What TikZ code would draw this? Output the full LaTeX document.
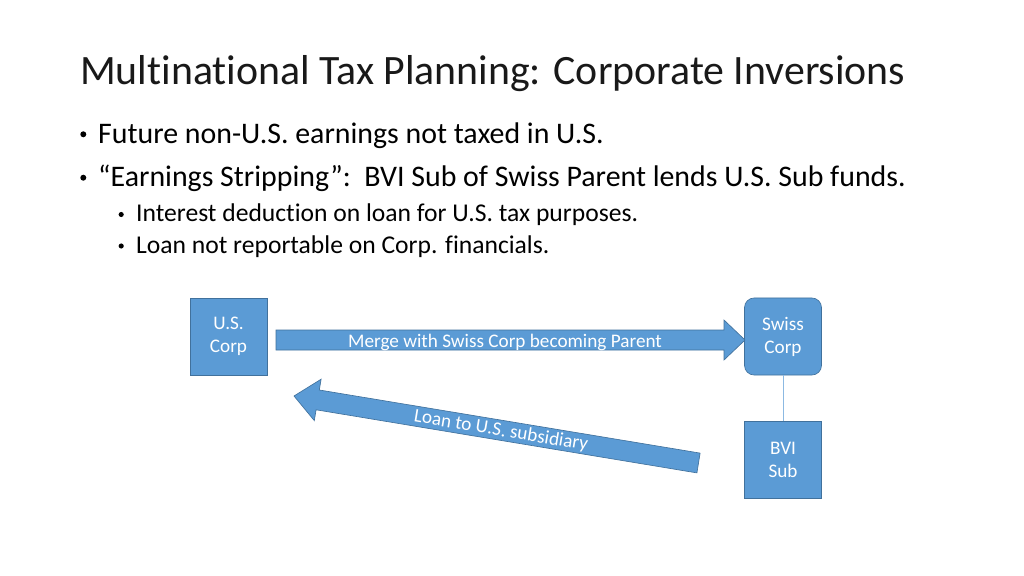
\documentclass[tikz,border=0pt]{standalone}
\usepackage{fontspec}
\setmainfont{Carlito}[Ligatures=CommonOff]
\definecolor{boxblue}{HTML}{5B9BD5}
\definecolor{boxedge}{HTML}{41719C}
\begin{document}
\begin{tikzpicture}[x=0.9375pt,y=-0.9375pt,
  txt/.style={inner sep=0pt, anchor=base west, text=black},
  lvlone/.style={txt, font=\fontsize{28}{33}\selectfont},
  lvltwo/.style={txt, font=\fontsize{24}{28}\selectfont},
  bigdot/.style={circle, fill=black, inner sep=0pt, minimum size=5.6pt},
  smalldot/.style={circle, fill=black, inner sep=0pt, minimum size=4.8pt},
  entity/.style={draw=boxedge, fill=boxblue, line width=0.6pt, minimum width=72.2pt, minimum height=72.2pt,
    text=white, align=center, font=\fontsize{18}{21.6}\selectfont, inner sep=0pt},
  blockarrow/.style={draw=boxedge, fill=boxblue, line width=0.6pt},
  arrowlabel/.style={text=white, inner sep=0pt, font=\fontsize{18}{21}\selectfont}]
\fill[white] (0,0) rectangle (1024,576);
\useasboundingbox (0,0) rectangle (1024,576);

% title
\node[txt, font=\fontsize{39.2}{47}\selectfont, text=black!90] (title) at (80,84.5) {Multinational Tax Planning: Corporate Inversions};

% bullets
\node[bigdot] (d1) at (83.3,134.3) {};
\node[lvlone] (t1) at (98,143.3) {Future non-U.S. earnings not taxed in U.S.};
\node[bigdot] (d2) at (83.3,177.7) {};
\node[lvlone] (t2) at (98,186.7) {“Earnings Stripping”:\ \ BVI Sub of Swiss Parent lends U.S. Sub funds.};
\node[smalldot] (d3) at (121.2,214.5) {};
\node[lvltwo] (t3) at (136,221.7) {Interest deduction on loan for U.S. tax purposes.};
\node[smalldot] (d4) at (121.2,246) {};
\node[lvltwo] (t4) at (136,253) {Loan not reportable on Corp. financials.};

% entities
\node[entity] (us) at (228.5,336.5) {U.S.\\Corp};
\node[entity, rounded corners=9pt] (swiss) at (783,336.5) {Swiss\\Corp};
\node[entity] (bvi) at (783,460) {BVI\\Sub};
\draw[boxblue!70, line width=0.6pt] (swiss) -- (bvi);

% merge arrow
\draw[blockarrow] (276,330) -- (724,330) -- (724,320) -- (745,340) -- (724,360) -- (724,350) -- (276,350) -- cycle;
\node[arrowlabel] (merge) at (505,342) {Merge with Swiss Corp becoming Parent};

% loan arrow
\draw[blockarrow] (700.1,453.1) -- (319.3,390.0) -- (321.1,379.2) -- (294,396) -- (314.3,420.6) -- (316.1,409.8) -- (696.9,472.9) -- cycle;
\node[arrowlabel, rotate=-9.4] (loan) at (501,431) {Loan to U.S. subsidiary};
\end{tikzpicture}
\end{document}
